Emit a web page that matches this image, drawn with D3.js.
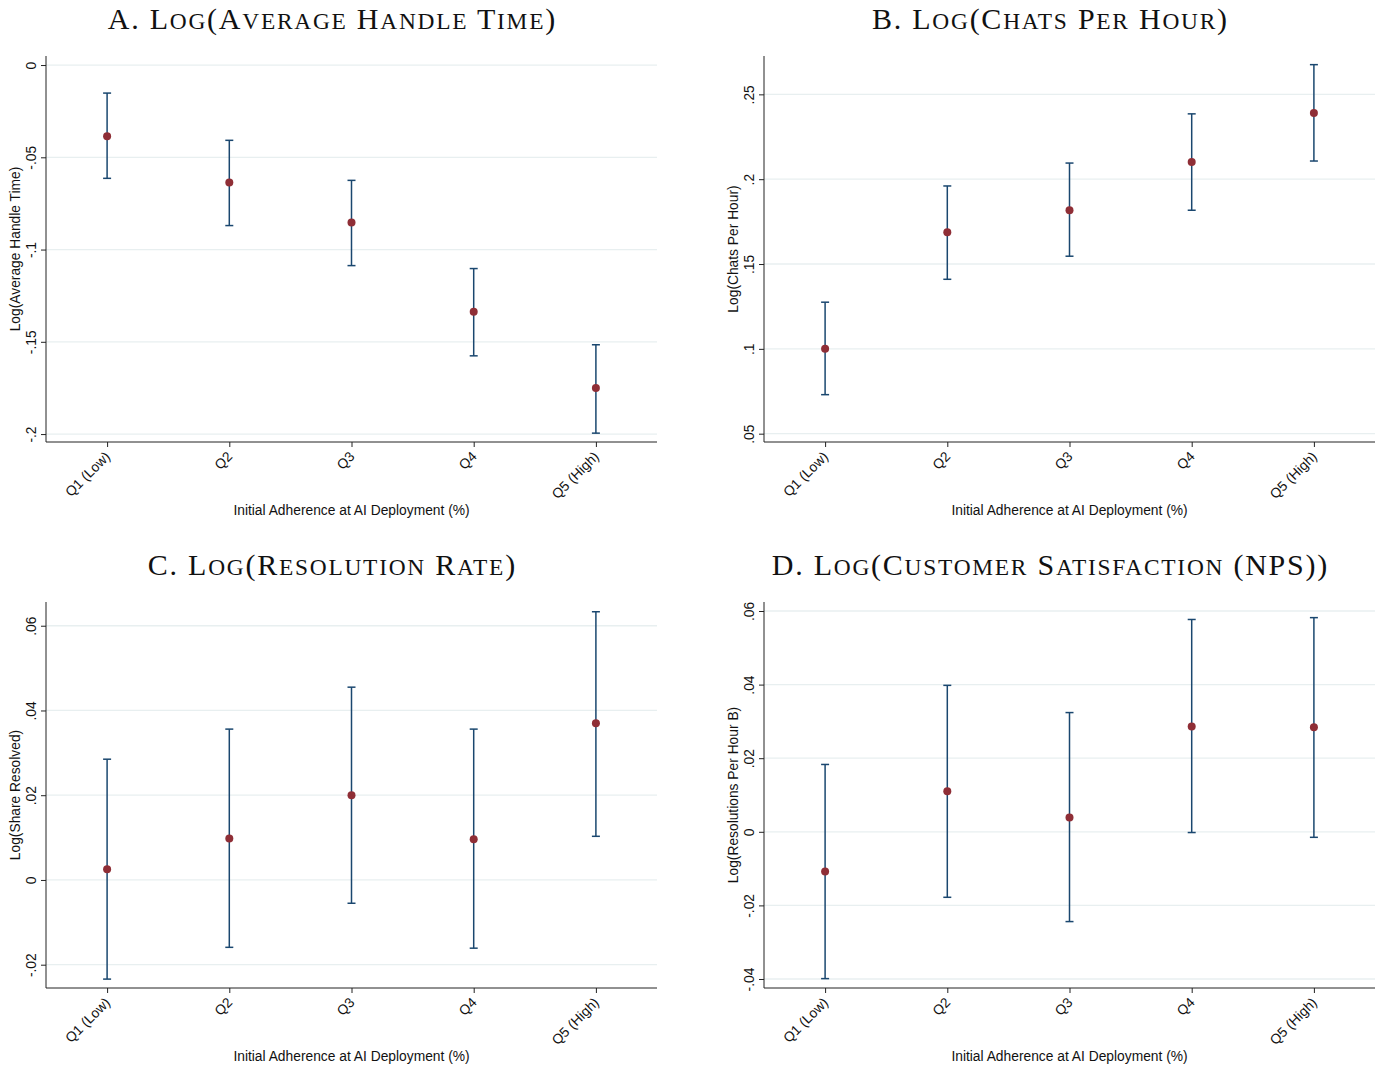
<!DOCTYPE html>
<html><head><meta charset="utf-8">
<script src="https://cdn.jsdelivr.net/npm/d3@7"></script>
<style>body{margin:0;background:#fff} svg{display:block}</style>
</head><body><svg id="c" width="1385" height="1068"></svg>
<script>
// ---------- data ----------
const categories = ["Q1 (Low)", "Q2", "Q3", "Q4", "Q5 (High)"];

const ahtEst = [-0.0386, -0.0636, -0.0853, -0.1337, -0.1750];
const ahtLo  = [-0.0614, -0.0870, -0.1087, -0.1576, -0.1995];
const ahtHi  = [-0.0152, -0.0408, -0.0625, -0.1103, -0.1516];
const ahtTicks = [0, -0.05, -0.1, -0.15, -0.2];
const ahtTickLabels = ["0", "-.05", "-.1", "-.15", "-.2"];
const ahtRange = [-0.2043, 0.0049];

const cphEst = [0.1000, 0.1687, 0.1817, 0.2101, 0.2390];
const cphLo  = [0.0730, 0.1410, 0.1546, 0.1817, 0.2107];
const cphHi  = [0.1275, 0.1960, 0.2095, 0.2385, 0.2675];
const cphTicks = [0.05, 0.1, 0.15, 0.2, 0.25];
const cphTickLabels = [".05", ".1", ".15", ".2", ".25"];
const cphRange = [0.0451, 0.2726];

const resEst = [0.0025, 0.0098, 0.0200, 0.0096, 0.0370];
const resLo  = [-0.0234, -0.0159, -0.0055, -0.0161, 0.0103];
const resHi  = [0.0285, 0.0356, 0.0455, 0.0356, 0.0633];
const resTicks = [-0.02, 0, 0.02, 0.04, 0.06];
const resTickLabels = ["-.02", "0", ".02", ".04", ".06"];
const resRange = [-0.0255, 0.0656];

const npsEst = [-0.0108, 0.0110, 0.0039, 0.0286, 0.0284];
const npsLo  = [-0.0399, -0.0178, -0.0244, -0.0002, -0.0015];
const npsHi  = [0.0183, 0.0398, 0.0324, 0.0577, 0.0582];
const npsTicks = [-0.04, -0.02, 0, 0.02, 0.04, 0.06];
const npsTickLabels = ["-.04", "-.02", "0", ".02", ".04", ".06"];
const npsRange = [-0.04245, 0.06245];

const titles = ["A. Log(Average Handle Time)", "B. Log(Chats Per Hour)",
                "C. Log(Resolution Rate)", "D. Log(Customer Satisfaction (NPS))"];
const yTitles = ["Log(Average Handle Time)", "Log(Chats Per Hour)",
                 "Log(Share Resolved)", "Log(Resolutions Per Hour B)"];
const xTitle = "Initial Adherence at AI Deployment (%)";

// ---------- layout ----------
const panels = [
  {est: ahtEst, lo: ahtLo, hi: ahtHi, ticks: ahtTicks, labels: ahtTickLabels, range: ahtRange, left: 46,  top: 56},
  {est: cphEst, lo: cphLo, hi: cphHi, ticks: cphTicks, labels: cphTickLabels, range: cphRange, left: 764, top: 56},
  {est: resEst, lo: resLo, hi: resHi, ticks: resTicks, labels: resTickLabels, range: resRange, left: 46,  top: 602},
  {est: npsEst, lo: npsLo, hi: npsHi, ticks: npsTicks, labels: npsTickLabels, range: npsRange, left: 764, top: 602}
];
const W = 611, H = 386;
const axisColor = "#222", gridColor = "#e8eff0", barColor = "#1a476f", dotColor = "#8f2e36";
const sans = "'Liberation Sans', Arial, Helvetica, sans-serif";
const serif = "'Liberation Serif', 'Times New Roman', serif";
const fs = 13.8;
const titleSize = 30, smallCapSize = 23.4, titleSpacing = 1.75;

const svg = d3.select("#c");

// split a title into runs: lowercase runs become small capitals
function capsRuns(s) {
  const runs = [];
  for (const ch of s) {
    const low = ch !== ch.toUpperCase();
    const last = runs[runs.length - 1];
    if (last && last.low === low) last.t += ch; else runs.push({t: ch, low});
  }
  return runs;
}

panels.forEach((p, i) => {
  const g = svg.append("g").attr("transform", `translate(${p.left},${p.top})`);
  const x = d3.scalePoint().domain(categories).range([0, W]).padding(0.5);
  const y = d3.scaleLinear().domain(p.range).range([H, 0]);

  // gridlines
  g.append("g").selectAll("line").data(p.ticks).join("line")
    .attr("x1", 0).attr("x2", W)
    .attr("y1", d => y(d)).attr("y2", d => y(d))
    .attr("stroke", gridColor).attr("stroke-width", 1.3);

  // y axis
  const ya = d3.axisLeft(y).tickValues(p.ticks).tickSize(5)
    .tickFormat((d, k) => p.labels[k]);
  const yg = g.append("g").call(ya);
  yg.select(".domain").attr("d", `M0,0V${H}`).attr("stroke", axisColor);
  yg.selectAll(".tick line").attr("stroke", axisColor);
  yg.selectAll(".tick text")
    .attr("font-family", sans).attr("font-size", fs).attr("fill", "#111")
    .attr("x", null).attr("dy", null)
    .attr("text-anchor", "middle")
    .attr("transform", "translate(-10.5,0) rotate(-90)");

  // x axis
  const xa = d3.axisBottom(x).tickSize(5);
  const xg = g.append("g").attr("transform", `translate(0,${H})`).call(xa);
  xg.select(".domain").attr("d", `M0,0H${W}`).attr("stroke", axisColor);
  xg.selectAll(".tick line").attr("stroke", axisColor);
  xg.selectAll(".tick text")
    .attr("font-family", sans).attr("font-size", fs).attr("fill", "#111")
    .attr("y", null).attr("dy", "0.35em")
    .attr("text-anchor", "end")
    .attr("transform", "translate(0,12) rotate(-45)");

  // axis titles
  g.append("text").attr("x", W / 2).attr("y", H + 73)
    .attr("text-anchor", "middle").attr("font-family", sans).attr("font-size", fs)
    .attr("fill", "#111").text(xTitle);
  g.append("text").attr("transform", `translate(-26,${H / 2}) rotate(-90)`)
    .attr("text-anchor", "middle").attr("font-family", sans).attr("font-size", fs)
    .attr("fill", "#111").text(yTitles[i]);

  // panel title (small capitals)
  const tt = g.append("text").attr("x", W / 2 - 20).attr("y", -27).attr("dx", titleSpacing / 2)
    .attr("text-anchor", "middle").attr("font-family", serif).attr("font-size", titleSize)
    .attr("letter-spacing", titleSpacing).attr("fill", "#111");
  tt.selectAll("tspan").data(capsRuns(titles[i])).join("tspan")
    .attr("font-size", d => d.low ? smallCapSize : titleSize)
    .text(d => d.low ? d.t.toUpperCase() : d.t);

  // error bars
  const rows = categories.map((c, k) => ({c, est: p.est[k], lo: p.lo[k], hi: p.hi[k]}));
  const eb = g.append("g").selectAll("g").data(rows).join("g");
  eb.append("line").attr("x1", d => x(d.c)).attr("x2", d => x(d.c))
    .attr("y1", d => y(d.lo)).attr("y2", d => y(d.hi))
    .attr("stroke", barColor).attr("stroke-width", 1.5);
  eb.append("line").attr("x1", d => x(d.c) - 4).attr("x2", d => x(d.c) + 4)
    .attr("y1", d => y(d.lo)).attr("y2", d => y(d.lo))
    .attr("stroke", barColor).attr("stroke-width", 1.5);
  eb.append("line").attr("x1", d => x(d.c) - 4).attr("x2", d => x(d.c) + 4)
    .attr("y1", d => y(d.hi)).attr("y2", d => y(d.hi))
    .attr("stroke", barColor).attr("stroke-width", 1.5);
  eb.append("circle").attr("cx", d => x(d.c)).attr("cy", d => y(d.est))
    .attr("r", 4).attr("fill", dotColor);
});
</script>
</body></html>
